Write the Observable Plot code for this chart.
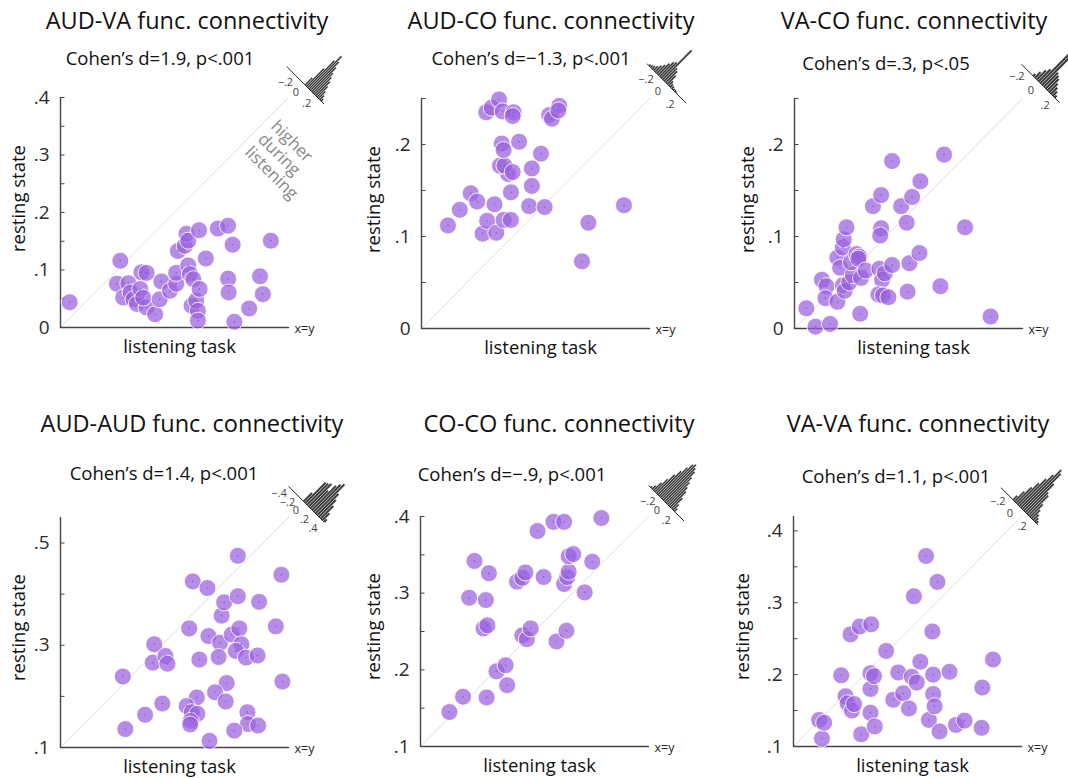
<!DOCTYPE html>
<html><head><meta charset="utf-8">
<script src="https://cdn.jsdelivr.net/npm/d3@7"></script>
<script src="https://cdn.jsdelivr.net/npm/@observablehq/plot@0.6"></script>
<style>
html,body{margin:0;padding:0;background:#fff;}
#root{position:relative;width:1068px;height:778px;overflow:hidden;font-family:"Open Sans",sans-serif;background:#fff;}
.t{position:absolute;white-space:nowrap;text-align:center;color:#111;line-height:1;}
.abs{position:absolute;}
.ax{position:absolute;box-sizing:border-box;border-left:1px solid #444;border-bottom:1px solid #444;}
</style></head><body><div id="root"></div>
<script>
// ---------- data ----------
const titles = ["AUD-VA func. connectivity","AUD-CO func. connectivity","VA-CO func. connectivity",
                "AUD-AUD func. connectivity","CO-CO func. connectivity","VA-VA func. connectivity"];
const subtitles = ["Cohen\u2019s d=1.9, p<.001","Cohen\u2019s d=\u22121.3, p<.001","Cohen\u2019s d=.3, p<.05",
                   "Cohen\u2019s d=1.4, p<.001","Cohen\u2019s d=\u2212.9, p<.001","Cohen\u2019s d=1.1, p<.001"];
const xLabel = "listening task";
const yLabel = "resting state";
const diagLabel = "x=y";
const noteText = "higher\nduring\nlistening";

const audVaListen = [0.016,0.105,0.099,0.119,0.110,0.123,0.128,0.134,0.140,0.142,0.151,0.151,0.145,0.166,0.174,0.177,0.192,0.203,0.203,0.206,0.218,0.221,0.224,0.224,0.227,0.233,0.230,0.238,0.241,0.244,0.241,0.243,0.255,0.276,0.294,0.302,0.294,0.295,0.305,0.331,0.350,0.355,0.369];
const audVaRest   = [0.044,0.116,0.076,0.077,0.052,0.061,0.049,0.041,0.067,0.096,0.095,0.035,0.052,0.023,0.049,0.080,0.064,0.076,0.095,0.133,0.142,0.163,0.151,0.108,0.093,0.084,0.038,0.047,0.029,0.067,0.012,0.169,0.120,0.172,0.177,0.144,0.085,0.061,0.010,0.033,0.089,0.058,0.151];

const audCoListen = [0.029,0.042,0.054,0.061,0.067,0.072,0.080,0.082,0.090,0.098,0.098,0.095,0.086,0.091,0.100,0.088,0.090,0.107,0.121,0.121,0.118,0.131,0.135,0.071,0.077,0.085,0.089,0.101,0.100,0.140,0.143,0.151,0.150,0.176,0.183,0.222];
const audCoRest   = [0.112,0.129,0.147,0.138,0.103,0.117,0.135,0.104,0.118,0.118,0.148,0.168,0.177,0.177,0.170,0.201,0.194,0.203,0.174,0.155,0.133,0.190,0.132,0.235,0.240,0.249,0.236,0.235,0.231,0.232,0.228,0.242,0.237,0.073,0.115,0.134];

const vaCoListen = [0.013,0.023,0.039,0.030,0.035,0.034,0.047,0.047,0.050,0.053,0.054,0.057,0.053,0.055,0.060,0.064,0.062,0.068,0.071,0.070,0.073,0.078,0.072,0.086,0.095,0.095,0.094,0.093,0.096,0.099,0.092,0.097,0.103,0.107,0.107,0.117,0.123,0.129,0.126,0.124,0.137,0.138,0.160,0.164,0.187,0.215];
const vaCoRest   = [0.022,0.002,0.005,0.053,0.046,0.033,0.029,0.077,0.066,0.088,0.097,0.110,0.047,0.041,0.050,0.058,0.072,0.081,0.078,0.076,0.055,0.063,0.016,0.133,0.145,0.109,0.101,0.065,0.053,0.060,0.037,0.036,0.034,0.069,0.182,0.133,0.115,0.143,0.071,0.040,0.082,0.160,0.046,0.189,0.110,0.013];

const audAudListen = [0.223,0.228,0.267,0.301,0.282,0.285,0.307,0.311,0.361,0.354,0.374,0.390,0.392,0.415,0.412,0.418,0.423,0.438,0.453,0.457,0.446,0.466,0.450,0.450,0.492,0.489,0.525,0.536,0.538,0.428,0.405,0.369,0.426,0.349,0.359,0.370,0.357,0.356,0.469,0.470,0.490,0.443,0.394];
const audAudRest   = [0.239,0.136,0.164,0.186,0.266,0.302,0.279,0.264,0.425,0.333,0.272,0.412,0.318,0.305,0.277,0.358,0.384,0.321,0.333,0.302,0.289,0.276,0.396,0.475,0.385,0.280,0.337,0.438,0.229,0.226,0.208,0.198,0.190,0.181,0.169,0.166,0.152,0.145,0.169,0.146,0.143,0.133,0.113];

const coCoListen = [0.138,0.156,0.187,0.214,0.200,0.212,0.183,0.188,0.164,0.186,0.171,0.190,0.234,0.240,0.245,0.227,0.234,0.238,0.262,0.254,0.275,0.289,0.279,0.292,0.289,0.293,0.295,0.295,0.301,0.316,0.326,0.338];
const coCoRest   = [0.145,0.165,0.164,0.180,0.198,0.206,0.254,0.258,0.294,0.291,0.342,0.326,0.245,0.240,0.254,0.315,0.320,0.327,0.321,0.381,0.393,0.393,0.237,0.251,0.312,0.321,0.328,0.348,0.351,0.301,0.341,0.398];

const vaVaListen = [0.140,0.136,0.143,0.167,0.173,0.176,0.182,0.185,0.180,0.193,0.209,0.195,0.208,0.208,0.208,0.213,0.214,0.230,0.240,0.247,0.254,0.262,0.266,0.273,0.269,0.278,0.286,0.290,0.295,0.296,0.296,0.298,0.302,0.305,0.319,0.328,0.340,0.364,0.365,0.380];
const vaVaRest   = [0.111,0.137,0.133,0.199,0.170,0.160,0.150,0.159,0.256,0.267,0.270,0.117,0.147,0.180,0.202,0.198,0.128,0.233,0.165,0.203,0.174,0.153,0.197,0.189,0.309,0.218,0.365,0.137,0.260,0.200,0.173,0.156,0.329,0.121,0.204,0.130,0.136,0.126,0.182,0.221];

// axis domains and ticks
const domains = [[0,0.4],[0,0.25],[0,0.25],[0.1,0.55],[0.1,0.4],[0.1,0.42]];
const minorTicks = [
  [0,0.05,0.1,0.15,0.2,0.25,0.3,0.35,0.4],
  [0,0.05,0.1,0.15,0.2,0.25],
  [0,0.05,0.1,0.15,0.2,0.25],
  [0.1,0.2,0.3,0.4,0.5],
  [0.1,0.15,0.2,0.25,0.3,0.35,0.4],
  [0.1,0.15,0.2,0.25,0.3,0.35,0.4]
];
const labelTicks = [[0,0.1,0.2,0.3,0.4],[0,0.1,0.2],[0,0.1,0.2],[0.1,0.3,0.5],[0.1,0.2,0.3,0.4],[0.1,0.2,0.3,0.4]];

// difference histograms (listening - rest): bin start, bin width, counts (relative heights)
const histStart = [0, -0.3, -0.1, -0.04, -0.33, -0.1];
const histWidth = [0.025, 0.025, 0.025, 0.04, 0.03, 0.025];
const histCounts = [
  [10,25,38,46,40,34,28,24,20,15,10,6,3],
  [2,3,4,6,9,12,16,20,22,41,18,16,12,6,4,3,2,2,1],
  [3,8,13,17,62,56,20,18,16,12,9,6,3],
  [12,29,30,32,25,34,38,41,30,24,18,10,4],
  [2,5,11,18,26,33,40,46,48,45,42,36,31,26,22,15,8,4],
  [6,14,22,30,38,46,55,52,40,30,28,18,12,8,5,3]
];
const histTicks = [[-0.2,0,0.2],[-0.2,0,0.2],[-0.2,0,0.2],[-0.4,-0.2,0,0.2,0.4],[-0.2,0,0.2],[-0.2,0,0.2]];
const histAxis = [[-0.33,0.36],[-0.32,0.32],[-0.25,0.28],[-0.37,0.45],[-0.36,0.40],[-0.28,0.31]];

// ---------- layout (pixels) ----------
const FW = 228, FH = 230, ML = 60, MT = 12, MR = 50, MB = 40;
const frames = [[60,97],[421,98],[794,98],[60,517],[420,516],[793,516]];
const titlePos = [[187,30],[551,30],[914,30],[192,433],[559,433],[918,433]];
const subPos = [[160,65],[531,65],[886,70],[164,480],[512,481],[896,483]];
const yLabOff = [41,47,46,41,46,50];
const yLabDy = [-14,-14,-14,-5,-5,-5];
const histOffset = [[16,-13],[17,-15],[17,-16],[16,-15],[17,-14],[-3,-11]];
const histK = [75,85,100,60,65,87];   // px per unit of difference along the inset axis
const TITLE_FS = 23.5, SUB_FS = 18.5;

const series = [
  [audVaListen, audVaRest],[audCoListen, audCoRest],[vaCoListen, vaCoRest],
  [audAudListen, audAudRest],[coCoListen, coCoRest],[vaVaListen, vaVaRest]
];

const root = document.getElementById("root");
const fmt = v => v === 0 ? "0" : (v < 0 ? "\u2212" : "") + String(Math.abs(v)).replace(/^0/, "");
const R2 = Math.SQRT2;

function addText(txt, cx, baseline, fs) {
  const d = document.createElement("div");
  d.className = "t";
  d.style.fontSize = fs + "px";
  d.style.width = "400px";
  d.style.left = (cx - 200) + "px";
  d.style.top = (baseline - 0.888 * fs) + "px";
  d.textContent = txt;
  root.appendChild(d);
}

// inset histogram marks, laid out at 45 degrees in the panel's own data space
function histMarks(i, d1, k) {
  const ax = d1 + histOffset[i][0] / k;          // anchor (difference = 0) on the x=y line extension
  const ay = d1 - histOffset[i][1] / k;
  const along = histK[i] / k;                    // data units per unit of difference
  const P = (s, h) => ({x: ax + (s * along + h / k) / R2, y: ay + (-s * along + h / k) / R2});
  const start = histStart[i], w = histWidth[i];
  const poly = [];
  histCounts[i].forEach((c, j) => {
    const a = start + j * w, b = a + w;
    for (const [s, h] of [[a, 0], [b, 0], [b, c], [a, c], [a, 0]]) poly.push({bin: j, ...P(s, h)});
  });
  const axisPts = histAxis[i].map(s => P(s, 0));
  const tickPts = histTicks[i].map(s => ({...P(s, 0), label: fmt(s)}));
  return [
    Plot.line(poly, {x: "x", y: "y", z: "bin", fill: "#383838", stroke: "#fff", strokeWidth: 0.45, strokeLinejoin: "miter"}),
    Plot.line(axisPts, {x: "x", y: "y", stroke: "#222", strokeWidth: 1}),
    Plot.text(tickPts, {x: "x", y: "y", text: "label", dx: -8.5, dy: 8.5, fontSize: 11, fill: "#444", textAnchor: "middle", lineAnchor: "middle"})
  ];
}

function drawPanel(i) {
  const [d0, d1] = domains[i];
  const k = FW / (d1 - d0);
  const [xs, ys] = series[i];
  const pts = xs.map((x, j) => ({x, y: ys[j]}));
  const axisColor = "#444";
  const tk = 4 / k;
  const marks = [
    Plot.line([d0, d1].map(v => ({x: v, y: v})), {x: "x", y: "y", stroke: "#dedede", strokeWidth: 1}),
    Plot.line([{x: d0, y: d1}, {x: d0, y: d0}, {x: d1, y: d0}], {x: "x", y: "y", stroke: axisColor, strokeWidth: 1.4}),
    Plot.link(minorTicks[i], {x1: () => d0, x2: () => d0 + tk, y1: d => d, y2: d => d, stroke: axisColor, strokeWidth: 1}),
    Plot.axisY({ticks: labelTicks[i], tickSize: 0, tickPadding: 11, tickFormat: fmt, fontSize: 19, label: null, fill: "#2a2a2a"}),
    Plot.dot(pts, {x: "x", y: "y", r: 8.5, fill: "#9b5fde", fillOpacity: 0.72, stroke: "#fff", strokeWidth: 1, strokeOpacity: 0.85}),
    Plot.dot(pts, {x: "x", y: "y", r: 0.9, fill: "#5a6ee0", fillOpacity: 0.8}),
    Plot.text([diagLabel], {frameAnchor: "bottom-right", dx: 6, dy: 1, textAnchor: "start", lineAnchor: "middle", fontSize: 12.5, fill: "#222"}),
    Plot.text([xLabel], {frameAnchor: "bottom", dx: 5, dy: 20, textAnchor: "middle", lineAnchor: "middle", fontSize: 18.5, fill: "#111"}),
    Plot.text([yLabel], {frameAnchor: "left", rotate: -90, dx: -yLabOff[i], dy: yLabDy[i], textAnchor: "middle", lineAnchor: "middle", fontSize: 18.5, fill: "#111"}),
    ...histMarks(i, d1, k)
  ];
  if (i === 0) {
    marks.push(Plot.text([noteText], {x: () => 0.352, y: () => 0.333, rotate: 45, textAnchor: "start", lineAnchor: "middle", lineHeight: 1.08, fontSize: 17, fill: "#8a8a8a"}));
  }
  const svg = Plot.plot({
    width: ML + FW + MR, height: MT + FH + MB,
    marginLeft: ML, marginTop: MT, marginRight: MR, marginBottom: MB,
    x: {domain: domains[i], axis: null, label: null},
    y: {domain: domains[i], label: null},
    style: {background: "transparent", overflow: "visible", fontFamily: "Open Sans", fontSize: "19px", color: "#2a2a2a"},
    marks
  });
  // frame backing (left and bottom edges), sits under the svg
  const ax = document.createElement("div");
  ax.className = "ax";
  ax.style.left = frames[i][0] + "px";
  ax.style.top = frames[i][1] + "px";
  ax.style.width = (FW + 1) + "px";
  ax.style.height = (FH + 1) + "px";
  root.appendChild(ax);
  const div = document.createElement("div");
  div.className = "abs";
  div.style.left = (frames[i][0] - ML) + "px";
  div.style.top = (frames[i][1] - MT) + "px";
  div.style.width = (ML + FW + MR) + "px";
  div.appendChild(svg);
  root.appendChild(div);
}

for (let i = 0; i < 6; i++) {
  addText(titles[i], titlePos[i][0], titlePos[i][1], TITLE_FS);
  addText(subtitles[i], subPos[i][0], subPos[i][1], SUB_FS);
  drawPanel(i);
}
</script></body></html>
